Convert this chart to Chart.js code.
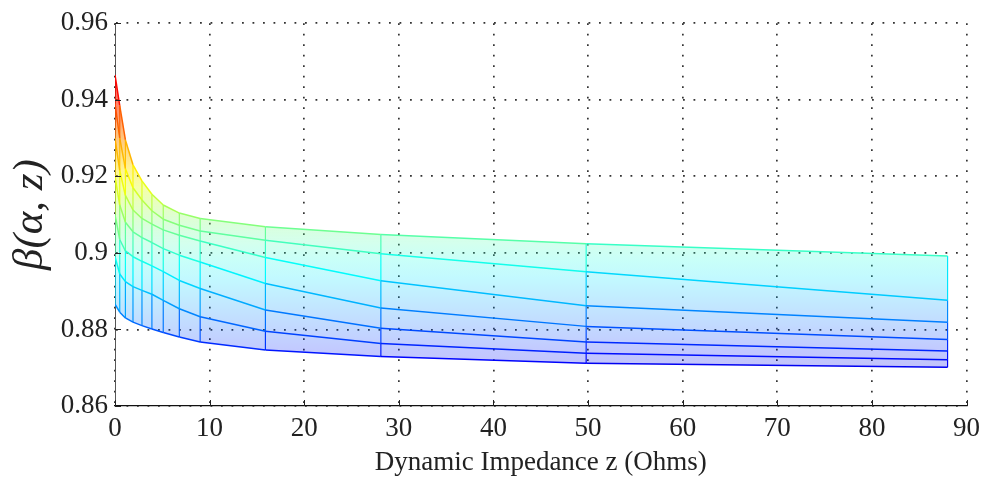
<!DOCTYPE html>
<html>
<head>
<meta charset="utf-8">
<script src="https://cdn.jsdelivr.net/npm/chart.js@4.4.1/dist/chart.umd.min.js"></script>
<style>
  html, body { margin: 0; padding: 0; background: #fff; }
  #wrap { width: 987px; height: 482px; }
</style>
</head>
<body>
<div id="wrap"><canvas id="chart"></canvas></div>
<script>
// z grid of the mesh (Ohms)
const zValues = [0, 0.5, 1.1, 1.9, 2.85, 3.9, 5.1, 6.8, 9.0, 15.9, 28.1, 49.8, 88];

// beta(alpha, z), one row per alpha
const beta1 = [0.9465, 0.9385, 0.9295, 0.9230, 0.9188, 0.9153, 0.9125, 0.9104, 0.9090, 0.9068, 0.9048, 0.9024, 0.8992];
const beta2 = [0.9390, 0.9300, 0.9220, 0.9170, 0.9138, 0.9110, 0.9088, 0.9072, 0.9057, 0.9033, 0.8998, 0.8951, 0.8876];
const beta3 = [0.9300, 0.9215, 0.9150, 0.9112, 0.9090, 0.9075, 0.9060, 0.9046, 0.9031, 0.8988, 0.8927, 0.8862, 0.8819];
const beta4 = [0.9200, 0.9125, 0.9080, 0.9055, 0.9040, 0.9027, 0.9011, 0.8994, 0.8976, 0.8920, 0.8856, 0.8808, 0.8774];
const beta5 = [0.9100, 0.9035, 0.9005, 0.8990, 0.8978, 0.8966, 0.8951, 0.8928, 0.8907, 0.8851, 0.8803, 0.8767, 0.8744];
const beta6 = [0.8990, 0.8945, 0.8925, 0.8912, 0.8902, 0.8892, 0.8876, 0.8854, 0.8833, 0.8795, 0.8763, 0.8738, 0.8721];
const beta7 = [0.8866, 0.8845, 0.8830, 0.8819, 0.8810, 0.8801, 0.8792, 0.8780, 0.8767, 0.8746, 0.8729, 0.8712, 0.8701];

const xTicks = [0, 10, 20, 30, 40, 50, 60, 70, 80, 90];
const yTicks = [0.86, 0.88, 0.9, 0.92, 0.94, 0.96];
const yTickLabels = ["0.86", "0.88", "0.9", "0.92", "0.94", "0.96"];
const xTitle = "Dynamic Impedance z (Ohms)";
const yTitle = "β(α, z)";

const curves = [beta1, beta2, beta3, beta4, beta5, beta6, beta7];

// colour limits for the jet map
const cLow = 0.860, cHigh = 0.955;

function jet(t) {
    t = Math.min(1, Math.max(0, t));
    const clamp = v => Math.min(1, Math.max(0, v));
    const r = clamp(1.5 - Math.abs(4 * t - 3));
    const g = clamp(1.5 - Math.abs(4 * t - 2));
    const b = clamp(1.5 - Math.abs(4 * t - 1));
    return [r, g, b].map(v => Math.round(v * 255));
}

function colorFor(v) {
    const [r, g, b] = jet((v - cLow) / (cHigh - cLow));
    return `rgb(${r},${g},${b})`;
}

function fillGradient(context) {
    const chart = context.chart;
    if (!chart.chartArea) return "rgba(0,0,0,0)";
    const y = chart.scales.y;
    const top = y.getPixelForValue(cHigh);
    const bottom = y.getPixelForValue(cLow);
    const grad = chart.ctx.createLinearGradient(0, bottom, 0, top);
    for (let i = 0; i <= 20; i++) {
        const t = i / 20;
        const [r, g, b] = jet(t);
        const a = 0.24 + 0.5 * Math.max(0, (t - 0.45) / 0.55);
        grad.addColorStop(t, `rgba(${r},${g},${b},${a.toFixed(3)})`);
    }
    return grad;
}

const segmentColor = {
    borderColor: ctx => colorFor((ctx.p0.parsed.y + ctx.p1.parsed.y) / 2)
};

const datasets = [];

// constant-alpha curves; the top one carries the fill down to the bottom one
curves.forEach((c, i) => {
    datasets.push({
        data: zValues.map((z, k) => ({ x: z, y: c[k] })),
        borderWidth: 1.5,
        borderColor: colorFor(c[c.length - 1]),
        segment: segmentColor,
        pointRadius: 0,
        fill: i === 0 ? curves.length - 1 : false,
        backgroundColor: i === 0 ? fillGradient : "rgba(0,0,0,0)"
    });
});

// constant-z mesh lines
zValues.forEach((z, k) => {
    datasets.push({
        data: curves.map(c => ({ x: z, y: c[k] })),
        borderWidth: 1.2,
        borderColor: colorFor(curves[0][k]),
        segment: segmentColor,
        pointRadius: 0,
        fill: false
    });
});

const inwardTicks = {
    id: "inwardTicks",
    afterDatasetsDraw(chart) {
        const { ctx, chartArea: a, scales: { x, y } } = chart;
        ctx.save();
        ctx.strokeStyle = "#222";
        ctx.lineWidth = 1;
        ctx.beginPath();
        x.ticks.forEach(t => {
            const px = Math.round(x.getPixelForValue(t.value)) + 0.5;
            ctx.moveTo(px, a.bottom);
            ctx.lineTo(px, a.bottom - 6);
        });
        y.ticks.forEach(t => {
            const py = Math.round(y.getPixelForValue(t.value)) + 0.5;
            ctx.moveTo(a.left, py);
            ctx.lineTo(a.left + 6, py);
        });
        ctx.stroke();
        ctx.restore();
    }
};

Chart.defaults.font.family = "'Liberation Serif', 'Times New Roman', serif";
Chart.defaults.color = "#222";

new Chart(document.getElementById("chart"), {
    type: "line",
    data: { datasets },
    options: {
        responsive: true,
        maintainAspectRatio: false,
        animation: false,
        devicePixelRatio: 1,
        layout: { padding: { top: 18, right: 20, left: 0, bottom: 0 } },
        plugins: {
            legend: { display: false },
            tooltip: { enabled: false }
        },
        scales: {
            x: {
                type: "linear",
                min: 0,
                max: 90,
                afterBuildTicks: scale => { scale.ticks = xTicks.map(v => ({ value: v })); },
                afterFit: scale => { scale.height = 76; },
                ticks: { font: { size: 27 }, padding: 7, maxRotation: 0 },
                grid: { color: "#333", lineWidth: 1.7, drawTicks: false },
                border: { display: true, color: "#111", width: 1.2, dash: [1.8, 8.7] },
                title: { display: true, text: xTitle, font: { size: 27 }, padding: { top: 0, bottom: 3 } }
            },
            y: {
                min: 0.86,
                max: 0.96,
                afterBuildTicks: scale => { scale.ticks = yTicks.map(v => ({ value: v })); },
                afterFit: scale => { scale.width = 115; },
                ticks: {
                    font: { size: 27 },
                    padding: 7,
                    callback: v => {
                        const i = yTicks.findIndex(t => Math.abs(t - v) < 1e-9);
                        return i >= 0 ? yTickLabels[i] : "";
                    }
                },
                grid: { color: "#333", lineWidth: 1.7, drawTicks: false },
                border: { display: true, color: "#555", width: 1, dash: [1.8, 8.7] },
                title: { display: true, text: yTitle, font: { size: 43, style: "italic" }, padding: { top: 5, bottom: 0 } }
            }
        }
    },
    plugins: [inwardTicks]
});
</script>
</body>
</html>
